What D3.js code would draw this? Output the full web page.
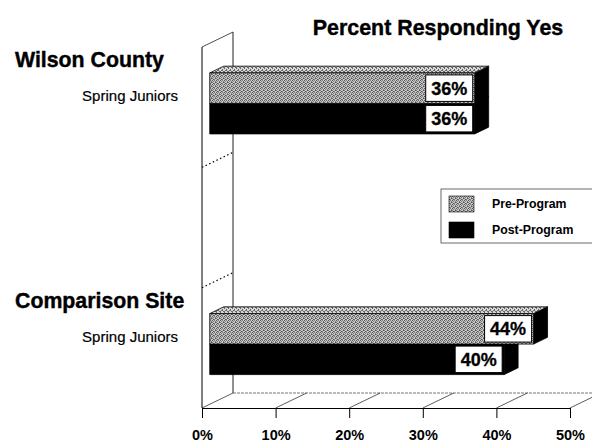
<!DOCTYPE html>
<html>
<head>
<meta charset="utf-8">
<script src="https://cdn.jsdelivr.net/npm/d3@7"></script>
<style>
  body { margin: 0; background: #fff; }
  svg { display: block; }
  text { font-family: "Liberation Sans", Arial, Helvetica, sans-serif; fill: #000; }
</style>
</head>
<body>
<svg id="chart" width="592" height="443"></svg>
<script>
// Chart data
const groups = ["Wilson County", "", "Comparison Site"];
const subgroups = ["Spring Juniors", "", "Spring Juniors"];
const seriesNames = ["Pre-Program", "Post-Program"];
const preProgram = [0.36, null, 0.44];
const postProgram = [0.36, null, 0.40];
const tickValues = [0, 0.1, 0.2, 0.3, 0.4, 0.5];
const title = "Percent Responding Yes";

const svg = d3.select("#chart");
const W = 592, H = 443;

// 3D frame: front plane, plus a depth vector toward the back wall
const DX = 31, DY = -15;
const wallTop = 47, floorY = 408;
const barFrontDepth = 0.25, barBackDepth = 0.7;
const barH = 30.5;

const x = d3.scaleLinear().domain([0, 0.5]).range([202, 570]);
const rows = d3.scaleBand().domain(d3.range(groups.length)).range([wallTop, floorY]);

const proj = (v, y, f) => [x(v) + f * DX, y + f * DY];

// Dithered fill for the pre-program series
const defs = svg.append("defs");
const pat = defs.append("pattern").attr("id", "dither")
  .attr("patternUnits", "userSpaceOnUse").attr("width", 4).attr("height", 4);
pat.append("rect").attr("width", 4).attr("height", 4).attr("fill", "#c8c8c8");
[[0,0],[2,0],[1,1],[3,2],[0,2],[2,3],[1,3],[3,1]].forEach(([px, py], i) => {
  pat.append("rect").attr("x", px).attr("y", py).attr("width", 1).attr("height", 1)
    .attr("fill", i % 3 === 0 ? "#555" : "#7c7c7c");
});
const patTop = defs.append("pattern").attr("id", "ditherTop")
  .attr("patternUnits", "userSpaceOnUse").attr("width", 4).attr("height", 4);
patTop.append("rect").attr("width", 4).attr("height", 4).attr("fill", "#d6d6d6");
[[0,0],[2,1],[1,2],[3,3],[0,3],[2,2]].forEach(([px, py]) => {
  patTop.append("rect").attr("x", px).attr("y", py).attr("width", 1).attr("height", 1).attr("fill", "#6a6a6a");
});

const seriesFill = ["url(#dither)", "#000"];
const seriesTopFill = ["url(#ditherTop)", "#111"];

// Floor
const floor = svg.append("g");
floor.append("line")
  .attr("x1", x(0) + DX).attr("x2", W).attr("y1", floorY + DY).attr("y2", floorY + DY)
  .attr("stroke", "#555").attr("stroke-width", 0.8).attr("stroke-dasharray", "3,1");
floor.selectAll("line.diag").data(tickValues).join("line").attr("class", "diag")
  .attr("x1", d => x(d)).attr("y1", floorY)
  .attr("x2", d => x(d) + DX).attr("y2", floorY + DY)
  .attr("stroke", "#333").attr("stroke-width", 0.8);

// Front axis with ticks and percent labels
const axis = d3.axisBottom(x).tickValues(tickValues).tickFormat(d3.format(".0%"))
  .tickSize(10).tickSizeOuter(0);
const gAxis = svg.append("g").attr("transform", `translate(0,${floorY})`).call(axis);
gAxis.select(".domain").attr("stroke", "#000").attr("stroke-width", 1);
gAxis.selectAll(".tick line").attr("stroke", "#000").attr("stroke-width", 1);
gAxis.selectAll(".tick text")
  .attr("y", 31.5).attr("dy", 0)
  .style("font-family", '"Liberation Sans", Arial, sans-serif')
  .style("font-size", "14.5px").style("font-weight", "bold").attr("fill", "#000");

// Left wall
const wall = svg.append("g");
wall.append("line").attr("x1", x(0)).attr("x2", x(0)).attr("y1", wallTop).attr("y2", floorY)
  .attr("stroke", "#000").attr("stroke-width", 1);
wall.append("line").attr("x1", x(0) + DX).attr("x2", x(0) + DX)
  .attr("y1", wallTop + DY).attr("y2", floorY + DY)
  .attr("stroke", "#222").attr("stroke-width", 1);
wall.append("line").attr("x1", x(0)).attr("y1", wallTop)
  .attr("x2", x(0) + DX).attr("y2", wallTop + DY)
  .attr("stroke", "#222").attr("stroke-width", 0.8);
wall.selectAll("line.div").data(d3.range(1, groups.length)).join("line").attr("class", "div")
  .attr("x1", x(0)).attr("y1", d => rows(d))
  .attr("x2", x(0) + DX).attr("y2", d => rows(d) + DY)
  .attr("stroke", "#000").attr("stroke-width", 1.2).attr("stroke-dasharray", "1.5,2.5");

// Bars: each bar is a front face, top face and right side face
function drawBar(g, v, yTop, s) {
  const f1 = barFrontDepth, f2 = barBackDepth;
  const yBot = yTop + barH;
  const a = proj(0, yTop, f1), b = proj(v, yTop, f1), c = proj(v, yBot, f1), d = proj(0, yBot, f1);
  const bt = proj(v, yTop, f2), bb = proj(v, yBot, f2), at = proj(0, yTop, f2);
  const poly = pts => pts.map(p => p.join(",")).join(" ");
  g.append("polygon").attr("points", poly([b, bt, bb, c]))
    .attr("fill", "#000").attr("stroke", "#000").attr("stroke-width", 0.8);
  g.append("polygon").attr("points", poly([a, at, bt, b]))
    .attr("fill", seriesTopFill[s]).attr("stroke", "#000").attr("stroke-width", 0.8);
  g.append("polygon").attr("points", poly([a, b, c, d]))
    .attr("fill", seriesFill[s]).attr("stroke", "#000").attr("stroke-width", 0.8);
  return { right: b[0], top: b[1], bottom: c[1] };
}

const fmt = d3.format(".0%");
const bars = svg.append("g");
const labels = svg.append("g");
groups.forEach((gname, i) => {
  if (preProgram[i] == null) return;
  const mid = rows(i) + rows.bandwidth() / 2;
  const vals = [preProgram[i], postProgram[i]];
  // lower (post) bar first so the upper bar covers its hidden edges
  const boxes = [];
  boxes[1] = drawBar(bars, vals[1], mid, 1);
  boxes[0] = drawBar(bars, vals[0], mid - barH, 0);
  [0, 1].forEach(s => {
    const bx = boxes[s];
    const bw = 47, bh = barH - 4;
    const lg = labels.append("g");
    lg.append("rect")
      .attr("x", bx.right - 2 - bw).attr("y", bx.top + 2)
      .attr("width", bw).attr("height", bh)
      .attr("fill", "#fff").attr("stroke", "#000").attr("stroke-width", 1);
    lg.append("text")
      .attr("x", bx.right - 2 - bw / 2).attr("y", bx.top + 2 + bh / 2 + 6.5)
      .attr("text-anchor", "middle")
      .style("font-size", "18px").style("font-weight", "bold")
      .attr("stroke", "#000").attr("stroke-width", 0.3)
      .text(fmt(vals[s]));
  });
});

// Row labels
const rowLabels = svg.append("g");
groups.forEach((gname, i) => {
  if (!gname) return;
  rowLabels.append("text")
    .attr("x", 15).attr("y", rows(i) + 20)
    .style("font-size", "21.3px").style("font-weight", "bold")
    .attr("stroke", "#000").attr("stroke-width", 0.4)
    .text(gname);
  rowLabels.append("text")
    .attr("x", 178).attr("y", rows(i) + rows.bandwidth() / 2 - 6)
    .attr("text-anchor", "end")
    .style("font-size", "15px")
    .attr("stroke", "#000").attr("stroke-width", 0.2)
    .text(subgroups[i]);
});

// Title
svg.append("text")
  .attr("x", 438).attr("y", 35).attr("text-anchor", "middle")
  .style("font-size", "21.4px").style("font-weight", "bold")
  .attr("stroke", "#000").attr("stroke-width", 0.4)
  .text(title);

// Legend
const legend = svg.append("g");
legend.append("rect")
  .attr("x", 441).attr("y", 189).attr("width", 170).attr("height", 54)
  .attr("fill", "#fff").attr("stroke", "#444").attr("stroke-width", 0.8);
seriesNames.forEach((name, s) => {
  const yy = 196 + s * 26;
  legend.append("rect").attr("x", 449).attr("y", yy).attr("width", 25).attr("height", 16)
    .attr("fill", seriesFill[s]).attr("stroke", "#000").attr("stroke-width", 0.6);
  legend.append("text").attr("x", 492).attr("y", yy + 12)
    .style("font-size", "12.3px").style("font-weight", "bold")
    .text(name);
});
</script>
</body>
</html>
